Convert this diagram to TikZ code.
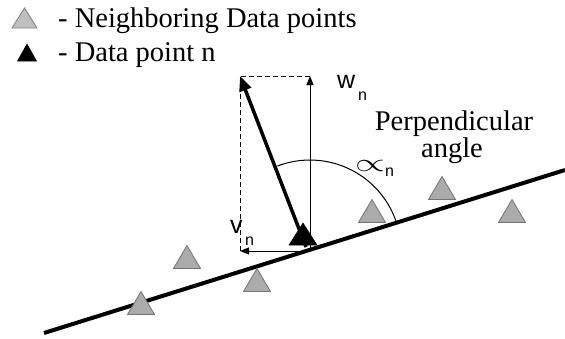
\documentclass[tikz,border=0pt]{standalone}
\usepackage{fontspec}
\usepackage{graphicx}
\setmainfont{Liberation Serif}
\setsansfont{Liberation Sans}
\usetikzlibrary{arrows.meta,calc}
\newcommand\trip[4]{\path[#1] ($(#2)+(-#3,#4)$) -- ($(#2)+(0,-#4)$) -- ($(#2)+(#3,#4)$) -- cycle;}
\begin{document}
\begin{tikzpicture}[x=1pt,y=-1pt,
  gtri/.style={fill=black!33, draw=black!55, line width=0.8pt},
  ltri/.style={fill=black!25, draw=black!50, line width=0.8pt},
  btri/.style={fill=black, draw=black, line width=0.5pt},
  thinln/.style={line width=1pt},
  thintip/.style={-{Triangle[length=9pt,width=7pt]}},
  legend/.style={font=\fontsize{28.5}{30}\selectfont, anchor=base west, inner sep=0pt},
  big/.style={font=\fontsize{28.5}{30}\selectfont, anchor=base, inner sep=0pt},
  lbl/.style={font=\sffamily\fontsize{25}{27}\selectfont, anchor=base west, inner sep=0pt},
  sub/.style={font=\sffamily\fontsize{16}{18}\selectfont, anchor=base west, inner sep=0pt}]
\useasboundingbox (0,0) rectangle (565,338);
% legend
\coordinate (lg) at (24.5,18);
\coordinate (lb) at (27,52.5);
\trip{ltri}{lg}{12.5}{10}
\trip{btri}{lb}{9.5}{8.5}
\node[legend] (l1) at (58,27) {- Neighboring Data points};
\node[legend] (l2) at (58,61) {- Data point n};
% main line
\coordinate (A) at (44,333);
\coordinate (B) at (565,170);
\draw[line width=4pt] (A) -- (B);
% key points
\coordinate (O) at (310,251);
\coordinate (T) at (310,76);
\coordinate (L) at (240,251);
\coordinate (C) at (240,76);
\coordinate (S) at (306,247);
% dashed box
\draw[thinln, dash pattern=on 5pt off 3pt] (L) -- (C) -- (T);
% arrows
\draw[thinln, thintip] (O) -- (T);
\draw[thinln, thintip] (O) -- (L);
\draw[line width=3.5pt, -{Triangle[length=15pt,width=12pt]}] (S) -- (C);
% arc
\draw[thinln] (O) ++(111:91pt) arc[start angle=111, end angle=18, radius=91pt];
% triangles
\coordinate (g1) at (187,257);
\coordinate (g2) at (141,303);
\coordinate (g3) at (257,280);
\coordinate (g4) at (372,211);
\coordinate (g5) at (442,188);
\coordinate (g6) at (512,211);
\foreach \g in {g1,g2,g3,g4,g5,g6} {\trip{gtri}{\g}{13.5}{11.5}}
\coordinate (dn) at (303,234);
\trip{btri}{dn}{14}{11}
% labels
\node[lbl] (w) at (337,88) {w};
\node[sub] (wn) at (358,100) {n};
\node[lbl] (v) at (230,233) {v};
\node[sub] (vn) at (245,245) {n};
\node[anchor=base west, inner sep=0pt] (al) at (355,171) {\resizebox{30pt}{11pt}{$\propto$}};
\node[sub] (aln) at (385,176) {n};
\node[big] (p1) at (454,130) {Perpendicular};
\node[big] (p2) at (452,157) {angle};
\end{tikzpicture}
\end{document}
